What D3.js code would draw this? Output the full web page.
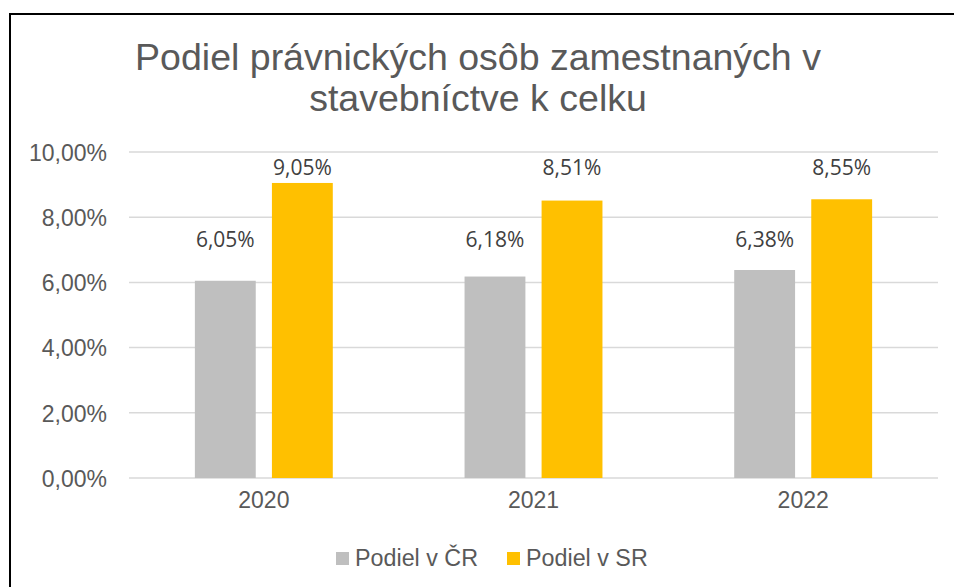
<html>
<head>
<meta charset="utf-8">
<style>
body { margin: 0; background: #fff; }
.frame { fill: none; stroke: #000; stroke-width: 2; }
.title { font: 37.5px "Liberation Sans", Arial, sans-serif; fill: #595959; text-anchor: middle; }
.axis text { font: 23px "Liberation Sans", Arial, sans-serif; fill: #595959; }
.grid line { stroke: #d9d9d9; stroke-width: 1.5; }
.lbl { font: 21px "Open Sans", sans-serif; fill: #404040; text-anchor: middle; }
.legend text { font: 23.3px "Liberation Sans", Arial, sans-serif; fill: #595959; }
</style>
</head>
<body>
<svg width="954" height="587"></svg>
<script src="https://cdn.jsdelivr.net/npm/d3@7"></script>
<script>

  // data
  var years = ["2020", "2021", "2022"];
  var seriesNames = ["Podiel v ČR", "Podiel v SR"];
  var podielCR = [6.05, 6.18, 6.38];
  var podielSR = [9.05, 8.51, 8.55];
  var yTicks = [0, 2, 4, 6, 8, 10];
  var titleLines = ["Podiel právnických osôb zamestnaných v", "stavebníctve k celku"];

  var colors = ["#bfbfbf", "#ffc000"];
  var values = [podielCR, podielSR];

  var svg = d3.select("svg");
  var margin = {top: 152, left: 129, right: 16, bottom: 109};
  var width = 954 - margin.left - margin.right,
      height = 587 - margin.top - margin.bottom;

  var fmt = function(v) { return v.toFixed(2).replace(".", ",") + "%"; };

  // frame (runs off the right/bottom of the picture)
  svg.append("rect").attr("class", "frame")
    .attr("x", 10).attr("y", 14).attr("width", 980).attr("height", 620);

  // title
  svg.append("text").attr("class", "title")
    .attr("x", 478).attr("y", 70)
    .selectAll("tspan").data(titleLines).enter().append("tspan")
      .attr("x", 478)
      .attr("dy", function(d, i) { return i ? 41 : 0; })
      .text(function(d) { return d; });

  var x0 = d3.scaleBand().domain(years).range([0, width]).padding(0);
  var x1 = d3.scaleBand().domain(seriesNames).range([0, x0.bandwidth()])
    .paddingInner(0.21).paddingOuter(0.855);
  var y = d3.scaleLinear().domain([0, 10]).range([height, 0]);

  var g = svg.append("g")
    .attr("transform", "translate(" + margin.left + "," + margin.top + ")");

  // gridlines
  g.append("g").attr("class", "grid")
    .selectAll("line").data(yTicks).enter().append("line")
      .attr("x1", 0).attr("x2", width)
      .attr("y1", function(d) { return y(d); })
      .attr("y2", function(d) { return y(d); });

  // y axis labels
  var gy = g.append("g").attr("class", "axis")
    .attr("transform", "translate(-22,0)")
    .call(d3.axisLeft(y).tickValues(yTicks).tickSize(0).tickPadding(0).tickFormat(fmt));
  gy.select(".domain").remove();
  gy.selectAll("text").attr("dy", "0.36em");

  // x axis labels
  var gx = g.append("g").attr("class", "axis")
    .attr("transform", "translate(0," + height + ")")
    .call(d3.axisBottom(x0).tickSize(0).tickPadding(14));
  gx.select(".domain").remove();

  // bars
  var rows = years.map(function(yr, i) {
    return seriesNames.map(function(s, j) { return {year: yr, series: s, j: j, value: values[j][i]}; });
  });

  var grp = g.selectAll(".yr").data(rows).enter().append("g")
    .attr("class", "yr")
    .attr("transform", function(d) { return "translate(" + x0(d[0].year) + ",0)"; });

  grp.selectAll("rect").data(function(d) { return d; }).enter().append("rect")
    .attr("x", function(d) { return x1(d.series); })
    .attr("width", x1.bandwidth())
    .attr("y", function(d) { return y(d.value); })
    .attr("height", function(d) { return height - y(d.value); })
    .attr("fill", function(d) { return colors[d.j]; });

  // data labels - placed at one level per series, like the original
  var labelLevel = [d3.max(podielCR) + 0.72, d3.max(podielSR) + 0.25];
  grp.selectAll(".lbl").data(function(d) { return d; }).enter().append("text")
    .attr("class", "lbl")
    .attr("x", function(d) { return x1(d.series) + x1.bandwidth() / 2; })
    .attr("y", function(d) { return y(labelLevel[d.j]); })
    .text(function(d) { return fmt(d.value); });

  // legend
  var legX = [336, 507];
  var leg = svg.append("g").attr("class", "legend")
    .selectAll("g").data(seriesNames).enter().append("g")
      .attr("transform", function(d, i) { return "translate(" + legX[i] + ",552)"; });
  leg.append("rect").attr("width", 13).attr("height", 13)
    .attr("fill", function(d, i) { return colors[i]; });
  leg.append("text").attr("x", 19).attr("y", 13.5).text(function(d) { return d; });

</script>
</body>
</html>
